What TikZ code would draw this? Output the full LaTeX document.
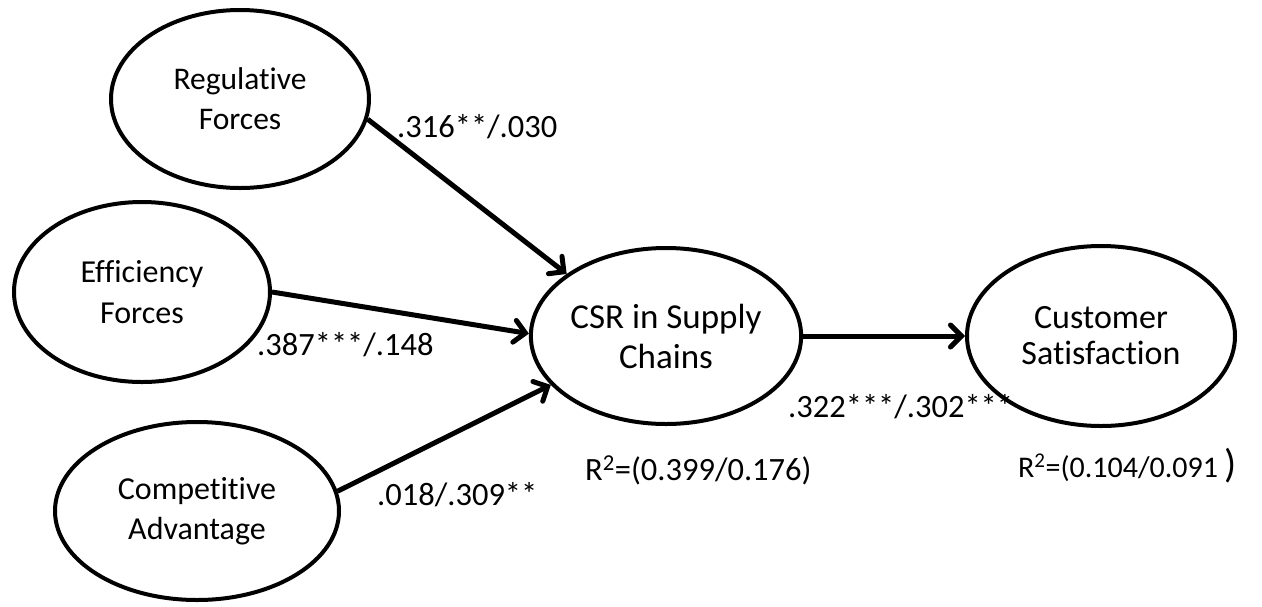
\documentclass[tikz,border=0pt]{standalone}
\usepackage{fontspec}
\setmainfont{Carlito}[Ligatures=NoCommon]
\usetikzlibrary{shapes.geometric,arrows.meta}

\tikzset{
  construct/.style={ellipse, draw, line width=4pt, inner sep=0pt, align=center},
  path arrow/.style={line width=5pt, -{Straight Barb[length=11pt,width=22pt,line cap=round]}},
  coef/.style={inner sep=0pt, anchor=base west, font=\fontsize{32.5}{36}\selectfont},
}

\begin{document}
\begin{tikzpicture}[x=1pt, y=-1pt]
  \useasboundingbox (0,0) rectangle (1262,606);

  % latent constructs
  \node[construct, minimum width=258pt, minimum height=178pt,
        font=\fontsize{31.5}{40}\selectfont] (reg) at (240,99) {Regulative\\Forces};
  \node[construct, minimum width=256pt, minimum height=180pt,
        font=\fontsize{32}{41}\selectfont] (eff) at (142,292) {Efficiency\\Forces};
  \node[construct, minimum width=284pt, minimum height=178pt,
        font=\fontsize{32}{40}\selectfont] (comp) at (197,511) {Competitive\\Advantage};
  \node[construct, minimum width=252pt, minimum height=176pt,
        font=\fontsize{35}{40}\selectfont] (csr) at (666,336) {CSR in Supply\\Chains};
  \node[construct, minimum width=268pt, minimum height=180pt,
        font=\fontsize{34}{36}\selectfont] (cust) at (1101,336) {Customer\\Satisfaction};

  % structural paths
  \draw[path arrow] (reg.-9.6) -- (csr.148.8);
  \draw[path arrow] (eff.-0.5) -- (csr.179);
  \draw[path arrow] (comp.8.5) -- (csr.203.5);
  \draw[path arrow] (csr.east) -- (cust.west);

  % path coefficients
  \node[coef] (c1) at (397,137) {.316**/.030};
  \node[coef] (c2) at (257,355) {.387***/.148};
  \node[coef] (c3) at (377,505) {.018/.309**};
  \node[coef] (c4) at (788,417) {.322***/.302***};

  % explained variance
  \node[coef] (r1) at (585,480) {R\textsuperscript{2}=(0.399/0.176)};
  \node[coef, font=\fontsize{30}{34}\selectfont] (r2) at (1018,477)
       {R\textsuperscript{2}=(0.104/0.091 {\fontsize{40}{40}\selectfont)}};
\end{tikzpicture}
\end{document}
